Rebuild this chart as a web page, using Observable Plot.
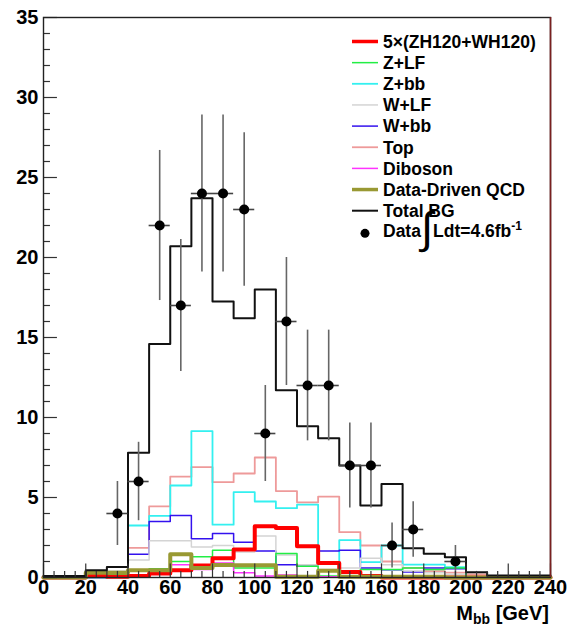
<!DOCTYPE html>
<html><head><meta charset="utf-8">
<script src="https://cdn.jsdelivr.net/npm/d3@7"></script>
<script src="https://cdn.jsdelivr.net/npm/@observablehq/plot@0.6"></script>
<style>body{margin:0;background:#fff} #chart svg{display:block}</style>
</head><body><div id="chart"></div>
<script>
// bin edges (GeV)
const binEdges = [0,10,20,30,40,50,60,70,80,90,100,110,120,130,140,150,160,170,180,190,200,210,220,230,240];
// histogram contents per 10 GeV bin
const totalBG  = [0.1,0.1,0.45,0.65,7.8,14.6,20.7,23.7,17.25,16.2,18.0,11.7,9.45,8.7,7.0,4.5,5.85,1.83,1.48,1.27,0.33,0.12,0.12,0.12];
const signal5x = [0,0,0.1,0.05,0.1,0.25,0.45,0.75,1.2,1.75,3.2,3.1,1.95,0.9,0.35,0.1,0,0,0,0,0,0,0,0];
const zLF      = [0,0,0.1,0.2,0.45,0.55,1.0,1.3,1.7,0.6,0.6,1.5,0.7,0.1,0.1,0.5,0.5,0.6,0.5,0.6,0,0,0,0];
const zbb      = [0,0,0,0.1,3.25,3.85,5.75,9.15,3.3,5.33,4.75,4.33,4.56,0.9,2.33,0.96,2.0,0.8,0.8,0.65,0,0,0,0];
const wLF      = [0,0,0,0.4,1.1,2.3,2.3,1.9,2.0,1.6,2.6,1.4,0.8,0.5,0.6,1.2,0.8,0.4,0.3,0.2,0,0,0,0];
const wbb      = [0,0,0,0.2,1.45,3.5,3.87,2.42,2.75,2.2,1.65,0.8,0.7,1.65,1.7,0.6,0.48,0.35,0.6,0.54,0,0,0,0];
const topBG    = [0,0,0,0.3,1.85,4.44,6.3,6.9,5.96,6.5,7.5,5.4,4.7,5.06,2.83,2.0,1.0,0.6,0.4,0.3,0.2,0.1,0,0];
const diboson  = [0,0,0.15,0.1,0.1,0.2,0.8,0.5,0.9,0.3,0.1,0.15,0.1,0.05,0.05,0.05,0,0,0,0,0,0,0,0];
const qcd      = [0,0,0.3,0.3,0.45,0.45,1.45,0.6,0.78,0.76,0.76,0.05,0.05,0.42,0.05,0.05,0.05,0.05,0.05,0,0,0,0,0];
// data points
const dataX   = [35,45,55,65,75,85,95,105,115,125,135,145,155,165,175,195];
const dataY   = [4,6,22,17,24,24,23,9,16,12,12,7,7,2,3,1];
const dataErr = [2,2.45,4.69,4.12,4.9,4.9,4.8,3,4,3.46,3.46,2.65,2.65,1.41,1.73,1];
// ticks
const xTickLabels = [0,20,40,60,80,100,120,140,160,180,200,220,240];
const yTickLabels = [0,5,10,15,20,25,30,35];
const xMinorTicks = d3.range(0, 241, 5);
const yMinorTicks = d3.range(0, 36, 1);

const legendItems = [
  {label:"5\u00d7(ZH120+WH120)", color:"#ff0000", w:4},
  {label:"Z+LF", color:"#22ee44", w:1.5},
  {label:"Z+bb", color:"#33f0f0", w:1.8},
  {label:"W+LF", color:"#d4d4d4", w:1.5},
  {label:"W+bb", color:"#3311ee", w:1.5},
  {label:"Top", color:"#ee9a9a", w:1.8},
  {label:"Diboson", color:"#ff33ff", w:1.5},
  {label:"Data-Driven QCD", color:"#999933", w:4},
  {label:"Total BG", color:"#111111", w:2}
];
const seriesVals = [signal5x, zLF, zbb, wLF, wbb, topBG, diboson, qcd, totalBG];

function steps(vals){
  const pts = vals.map((v,i)=>({x:binEdges[i], y:v}));
  pts.push({x:binEdges[vals.length], y:vals[vals.length-1]});
  return pts;
}
const drawOrder = [5,2,4,3,1,6,0,7,8];
const lineMarks = drawOrder.map(i => Plot.line(steps(seriesVals[i]), {
  x:"x", y:"y", curve:"step-after", stroke: legendItems[i].color, strokeWidth: legendItems[i].w
}));
const dataPts = dataX.map((x,i)=>({x, y:dataY[i], e:dataErr[i]}));

const plot = Plot.plot({
  width:572, height:630,
  marginLeft:43, marginRight:22, marginTop:17, marginBottom:53,
  x:{domain:[0,240]},
  y:{domain:[0,35]},
  style:{fontFamily:"Liberation Sans, Arial, sans-serif", fontWeight:"bold", fontSize:"20px", color:"#000", background:"#fff"},
  marks:[
    ...lineMarks,
    Plot.ruleX(dataPts, {x:"x", y1:d=>d.y-d.e, y2:d=>d.y+d.e, stroke:"#666", strokeWidth:1.6}),
    Plot.ruleY(dataPts, {y:"y", x1:d=>d.x-5, x2:d=>d.x+5, stroke:"#444", strokeWidth:1.6}),
    Plot.dot(dataPts, {x:"x", y:"y", r:5, fill:"#000", stroke:"none"}),
    // x ticks (inward)
    Plot.ruleX(xMinorTicks, {x:d=>d, y1:0, y2:d=> d%20===0 ? 0.85 : 0.38, stroke:"#333", strokeWidth:1.2}),
    Plot.ruleY(yMinorTicks, {y:d=>d, x1:0, x2:d=> d%5===0 ? 6.6 : 3.3, stroke:"#333", strokeWidth:1.2}),
    Plot.frame({stroke:"#222", strokeWidth:1.4}),
    Plot.ruleX([240], {stroke:"#7a2020", strokeWidth:1.6}),
    Plot.axisX({ticks:xTickLabels, tickSize:0, tickPadding:2, label:null, fontSize:20, fontWeight:"bold"}),
    Plot.axisY({ticks:yTickLabels, tickSize:0, tickPadding:5, label:null, fontSize:20, fontWeight:"bold"})
  ]
});
document.getElementById("chart").appendChild(plot);

// legend
const svg = d3.select(plot);
const lg = svg.append("g").attr("font-family","Liberation Sans, Arial, sans-serif").attr("font-weight","bold")
  .attr("font-size","17.5px").attr("fill","#000").attr("text-anchor","start");
const rowY0 = 41.5, rowDy = 21.15;
legendItems.forEach((it,i)=>{
  const y = rowY0 + i*rowDy;
  lg.append("line").attr("x1",352).attr("x2",378).attr("y1",y).attr("y2",y).attr("stroke",it.color).attr("stroke-width",Math.min(it.w,3.5));
  lg.append("text").attr("x",383).attr("y",y).attr("dy","0.36em").text(it.label);
});
const dy = rowY0 + 9*rowDy - 1.5;
lg.append("circle").attr("cx",365).attr("cy",dy+3).attr("r",4.5).attr("fill","#000");
lg.append("text").attr("x",383).attr("y",dy).attr("dy","0.36em").text("Data");
lg.append("text").attr("x",421).attr("y",dy+13).attr("font-size","44px").attr("font-weight","normal").text("\u222b");
const t = lg.append("text").attr("x",433).attr("y",dy).attr("dy","0.36em");
t.append("tspan").text("Ldt=4.6fb");
t.append("tspan").attr("dy","-0.55em").attr("font-size","12px").text("-1");

// x-axis title
const xt = svg.append("text").attr("x",549).attr("y",620).attr("text-anchor","end")
  .attr("font-family","Liberation Sans, Arial, sans-serif").attr("font-weight","bold").attr("font-size","20px");
xt.append("tspan").text("M");
xt.append("tspan").attr("dy","4").attr("font-size","14px").text("bb");
xt.append("tspan").attr("dy","-4").text(" [GeV]");
</script>
</body></html>
